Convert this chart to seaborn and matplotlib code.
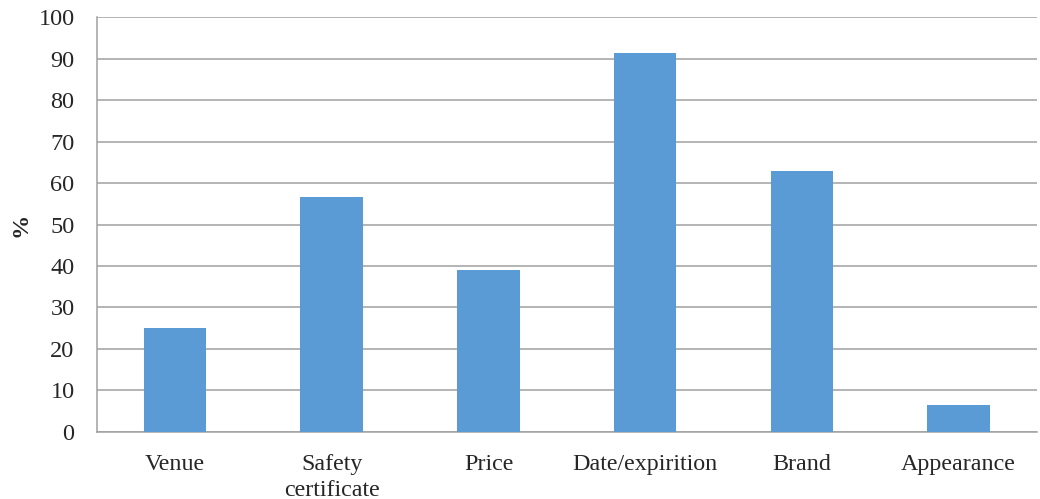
import matplotlib
matplotlib.use("Agg")
import matplotlib.pyplot as plt
import seaborn as sns
import pandas as pd

# ---------------- Data ----------------
categories = ["Venue", "Safety\ncertificate", "Price", "Date/expirition", "Brand", "Appearance"]
percent = [25.0, 56.7, 39.0, 91.4, 62.9, 6.4]
y_ticks = list(range(0, 101, 10))

df = pd.DataFrame({"factor": categories, "pct": percent})

sns.set_style("white")
plt.rcParams["font.family"] = ["Liberation Serif", "DejaVu Serif"]

fig = plt.figure(figsize=(10.4, 4.99), dpi=100)
ax = fig.add_axes([0.093, 0.135, 0.904, 0.830])

sns.barplot(data=df, x="factor", y="pct", color="#5B9BD5", width=0.4,
            saturation=1, linewidth=0, ax=ax, zorder=3)

ax.set_ylim(0, 100)
ax.set_yticks(y_ticks)
ax.set_xlim(-0.5, len(categories) - 0.5)
ax.yaxis.grid(True, color="#A0A0A0", linewidth=1.1, zorder=0)
ax.set_axisbelow(True)

for side in ["top", "right"]:
    ax.spines[side].set_visible(False)
for side in ["left", "bottom"]:
    ax.spines[side].set_color("#A0A0A0")
    ax.spines[side].set_linewidth(1.1)

ax.tick_params(axis="y", length=7, width=1.1, color="#A0A0A0", labelsize=17.5, pad=9)
ax.tick_params(axis="x", length=0, labelsize=17.3, pad=16)
for lbl in ax.get_xticklabels():
    lbl.set_linespacing(1.3)
ax.set_xlabel("")
ax.set_ylabel("%", fontsize=17.5, fontweight="bold", labelpad=5)

fig.savefig("out.png", dpi=100)
plt.close(fig)
